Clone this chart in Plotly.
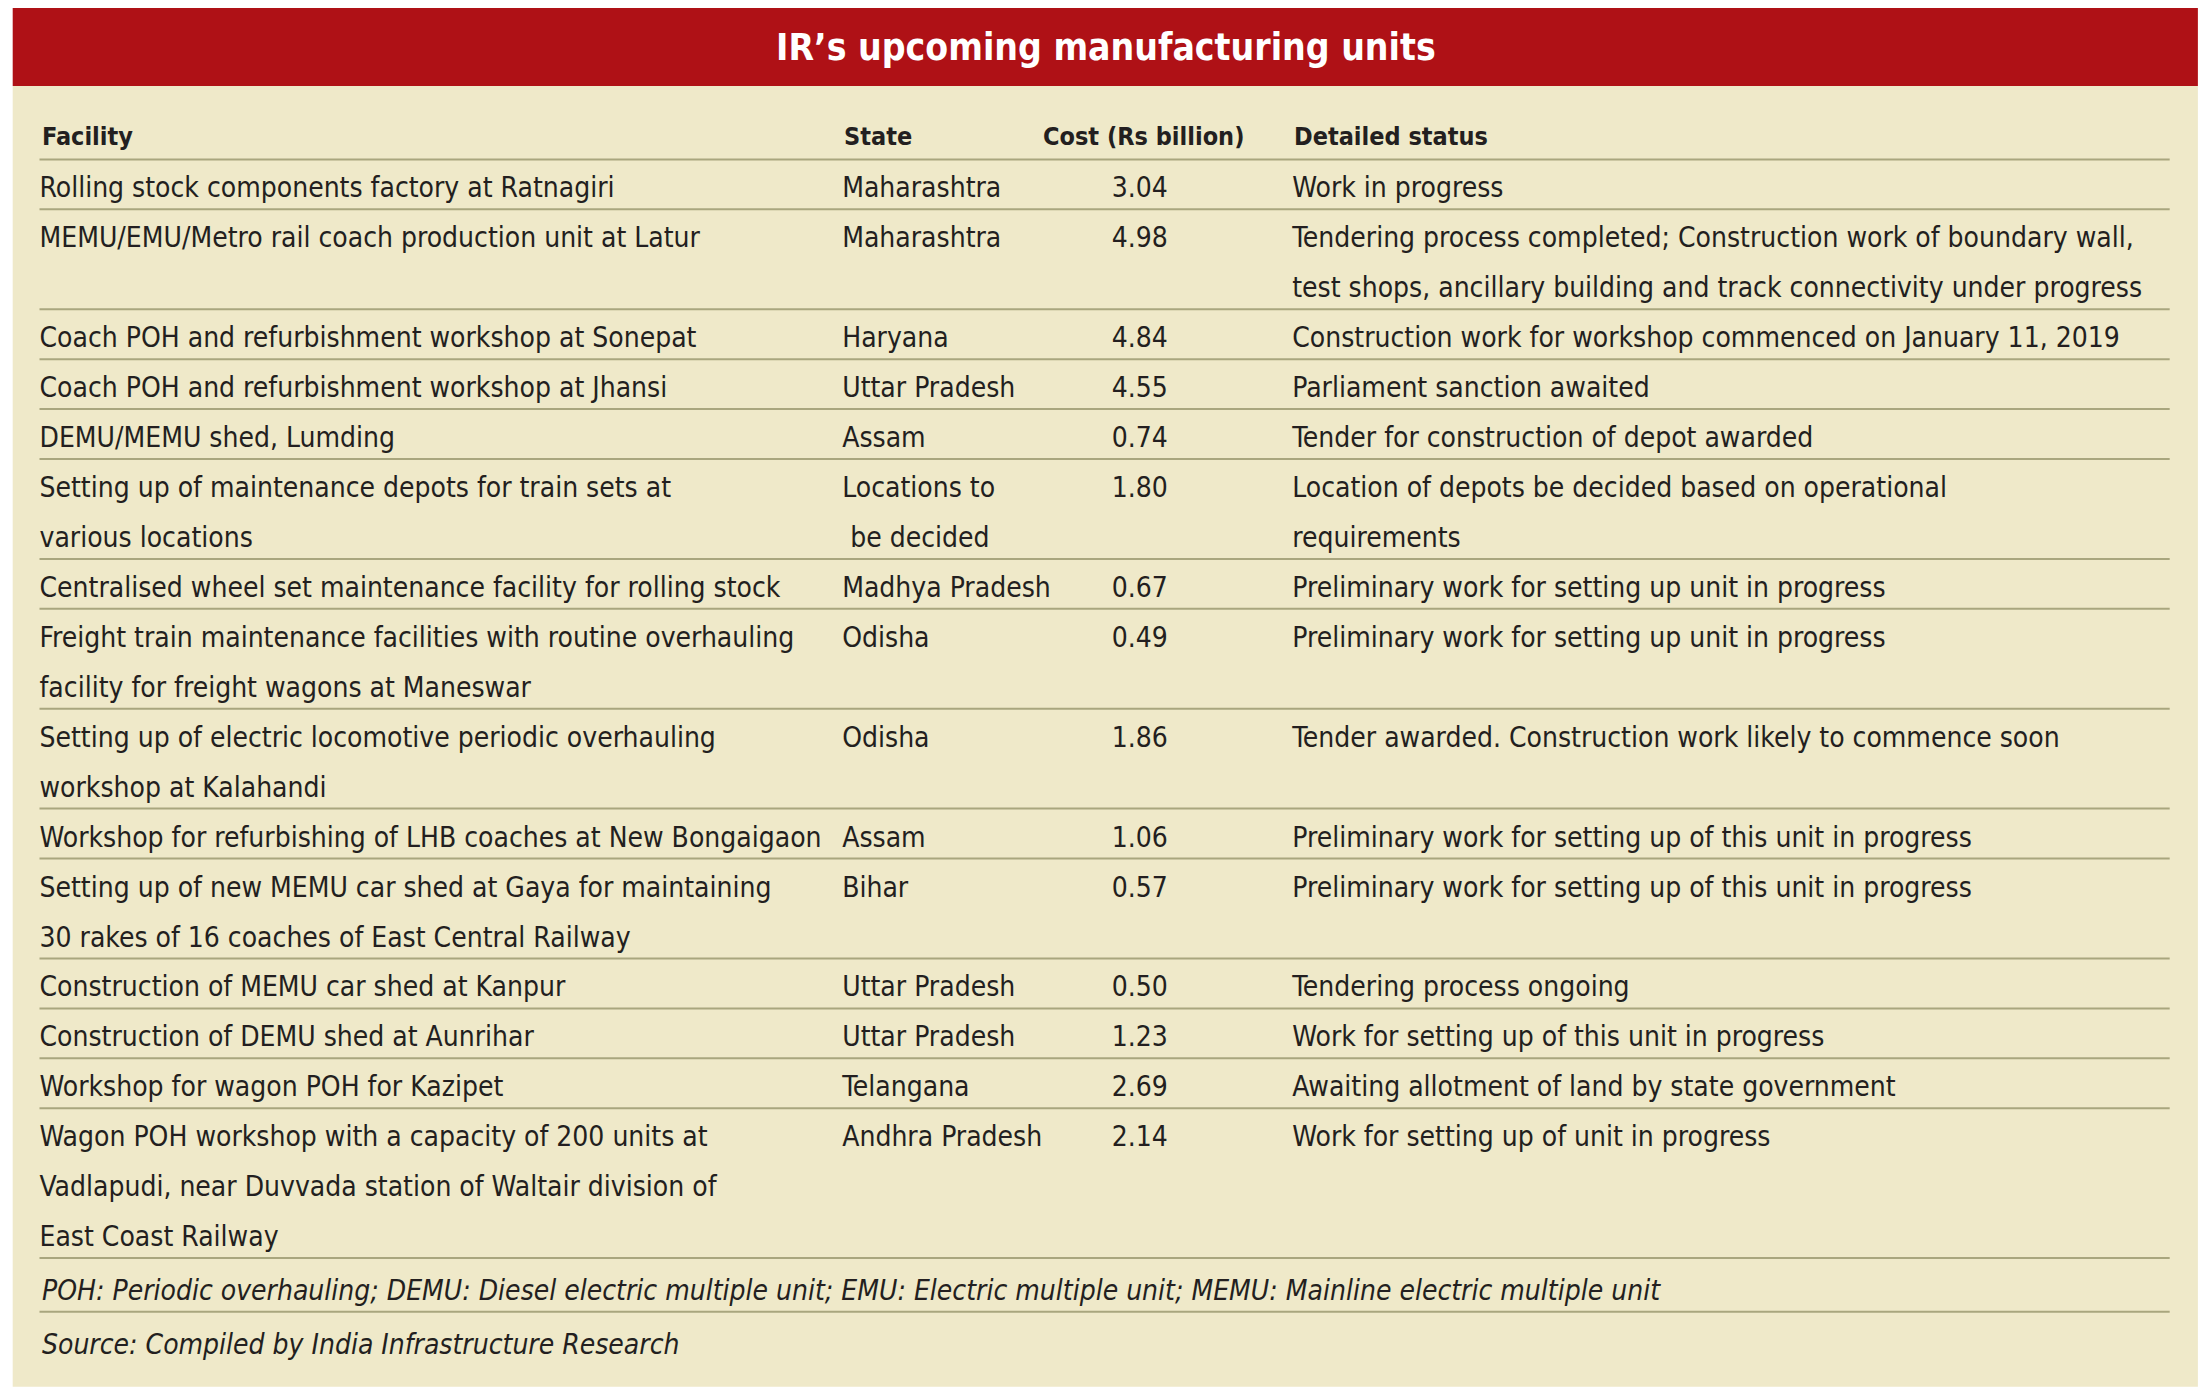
import plotly.graph_objects as go

# table content
title = "IR’s upcoming manufacturing units"
headers = ["Facility", "State", "Cost (Rs billion)", "Detailed status"]

facility = [
    "Rolling stock components factory at Ratnagiri",
    "MEMU/EMU/Metro rail coach production unit at Latur",
    "Coach POH and refurbishment workshop at Sonepat",
    "Coach POH and refurbishment workshop at Jhansi",
    "DEMU/MEMU shed, Lumding",
    "Setting up of maintenance depots for train sets at<br>various locations",
    "Centralised wheel set maintenance facility for rolling stock",
    "Freight train maintenance facilities with routine overhauling<br>facility for freight wagons at Maneswar",
    "Setting up of electric locomotive periodic overhauling<br>workshop at Kalahandi",
    "Workshop for refurbishing of LHB coaches at New Bongaigaon",
    "Setting up of new MEMU car shed at Gaya for maintaining<br>30 rakes of 16 coaches of East Central Railway",
    "Construction of MEMU car shed at Kanpur",
    "Construction of DEMU shed at Aunrihar",
    "Workshop for wagon POH for Kazipet",
    "Wagon POH workshop with a capacity of 200 units at<br>Vadlapudi, near Duvvada station of Waltair division of<br>East Coast Railway",
]
state = [
    "Maharashtra", "Maharashtra", "Haryana", "Uttar Pradesh", "Assam",
    "Locations to<br> be decided", "Madhya Pradesh", "Odisha", "Odisha", "Assam",
    "Bihar", "Uttar Pradesh", "Uttar Pradesh", "Telangana", "Andhra Pradesh",
]
cost = [3.04, 4.98, 4.84, 4.55, 0.74, 1.80, 0.67, 0.49, 1.86, 1.06, 0.57, 0.50, 1.23, 2.69, 2.14]
status = [
    "Work in progress",
    "Tendering process completed; Construction work of boundary wall,<br>test shops, ancillary building and track connectivity under progress",
    "Construction work for workshop commenced on January 11, 2019",
    "Parliament sanction awaited",
    "Tender for construction of depot awarded",
    "Location of depots be decided based on operational<br>requirements",
    "Preliminary work for setting up unit in progress",
    "Preliminary work for setting up unit in progress",
    "Tender awarded. Construction work likely to commence soon",
    "Preliminary work for setting up of this unit in progress",
    "Preliminary work for setting up of this unit in progress",
    "Tendering process ongoing",
    "Work for setting up of this unit in progress",
    "Awaiting allotment of land by state government",
    "Work for setting up of unit in progress",
]
footnote = "POH: Periodic overhauling; DEMU: Diesel electric multiple unit; EMU: Electric multiple unit; MEMU: Mainline electric multiple unit"
source = "Source: Compiled by India Infrastructure Research"

# layout (axis units: 1568 across the figure width)
W, H = 2212, 1399
XU = 1568
YU = H * XU / W
OFF = 8 * XU / W   # page body margin, in axis units
col_x = [28, 597, 788, 916]
cost_head_x = 738
line_l, line_r = 28, 1538
header_y = 97
table_top = 113
pitch = 35.4
first_off = 22

FONT = "Liberation Sans Narrow, Arial Narrow, DejaVu Sans Condensed, sans-serif"
TXT = "#231f20"
RULE = "#a9a67e"
fs = 28

fig = go.Figure()

# background panel and title bar
fig.add_shape(type="rect", x0=9, x1=1558, y0=61, y1=983, fillcolor="#efe9c9", line_width=0, layer="below")
fig.add_shape(type="rect", x0=9, x1=1558, y0=3, y1=61, fillcolor="#af1116", line_width=0, layer="below")
fig.add_annotation(x=784, y=34, text="<b>" + title + "</b>", showarrow=False,
                   font=dict(family=FONT, size=37, color="white"), xanchor="center", yanchor="middle")

# header
head_x = [col_x[0], col_x[1], cost_head_x, col_x[3]]
for hx, h in zip(head_x, headers):
    fig.add_annotation(x=hx, y=header_y, text="<b>" + h + "</b>", showarrow=False,
                       font=dict(family=FONT, size=25, color=TXT), xanchor="left", yanchor="middle")

rules = [table_top]
tx, ty, tt = [], [], []
top = table_top
for i in range(len(facility)):
    cells = [facility[i], state[i], f"{cost[i]:.2f}", status[i]]
    n = max(len(c.split("<br>")) for c in cells)
    for cx, c in zip(col_x, cells):
        for k, part in enumerate(c.split("<br>")):
            tx.append(cx)
            ty.append(top + first_off + k * pitch)
            tt.append(part)
    top += n * pitch
    rules.append(top)

fig.add_trace(go.Scatter(x=tx, y=ty, text=tt, mode="text", textposition="middle right",
                         textfont=dict(family=FONT, size=fs, color=TXT), hoverinfo="skip", showlegend=False))

# footnote and source
foot_y = top + 23
rules.append(top + 38)
src_y = top + 61
fig.add_annotation(x=col_x[0], y=foot_y, text="<i>" + footnote + "</i>", showarrow=False,
                   font=dict(family=FONT, size=fs, color=TXT), xanchor="left", yanchor="middle")
fig.add_annotation(x=col_x[0], y=src_y, text="<i>" + source + "</i>", showarrow=False,
                   font=dict(family=FONT, size=fs, color=TXT), xanchor="left", yanchor="middle")

for ry in rules:
    fig.add_shape(type="line", x0=line_l, x1=line_r, y0=ry, y1=ry, line=dict(color=RULE, width=2))

fig.update_layout(
    width=W, height=H,
    margin=dict(l=0, r=0, t=0, b=0),
    paper_bgcolor="white", plot_bgcolor="white",
    xaxis=dict(range=[OFF, XU + OFF], visible=False, fixedrange=True),
    yaxis=dict(range=[YU + OFF, OFF], visible=False, fixedrange=True),
    showlegend=False,
)

fig.write_html("out.html")
